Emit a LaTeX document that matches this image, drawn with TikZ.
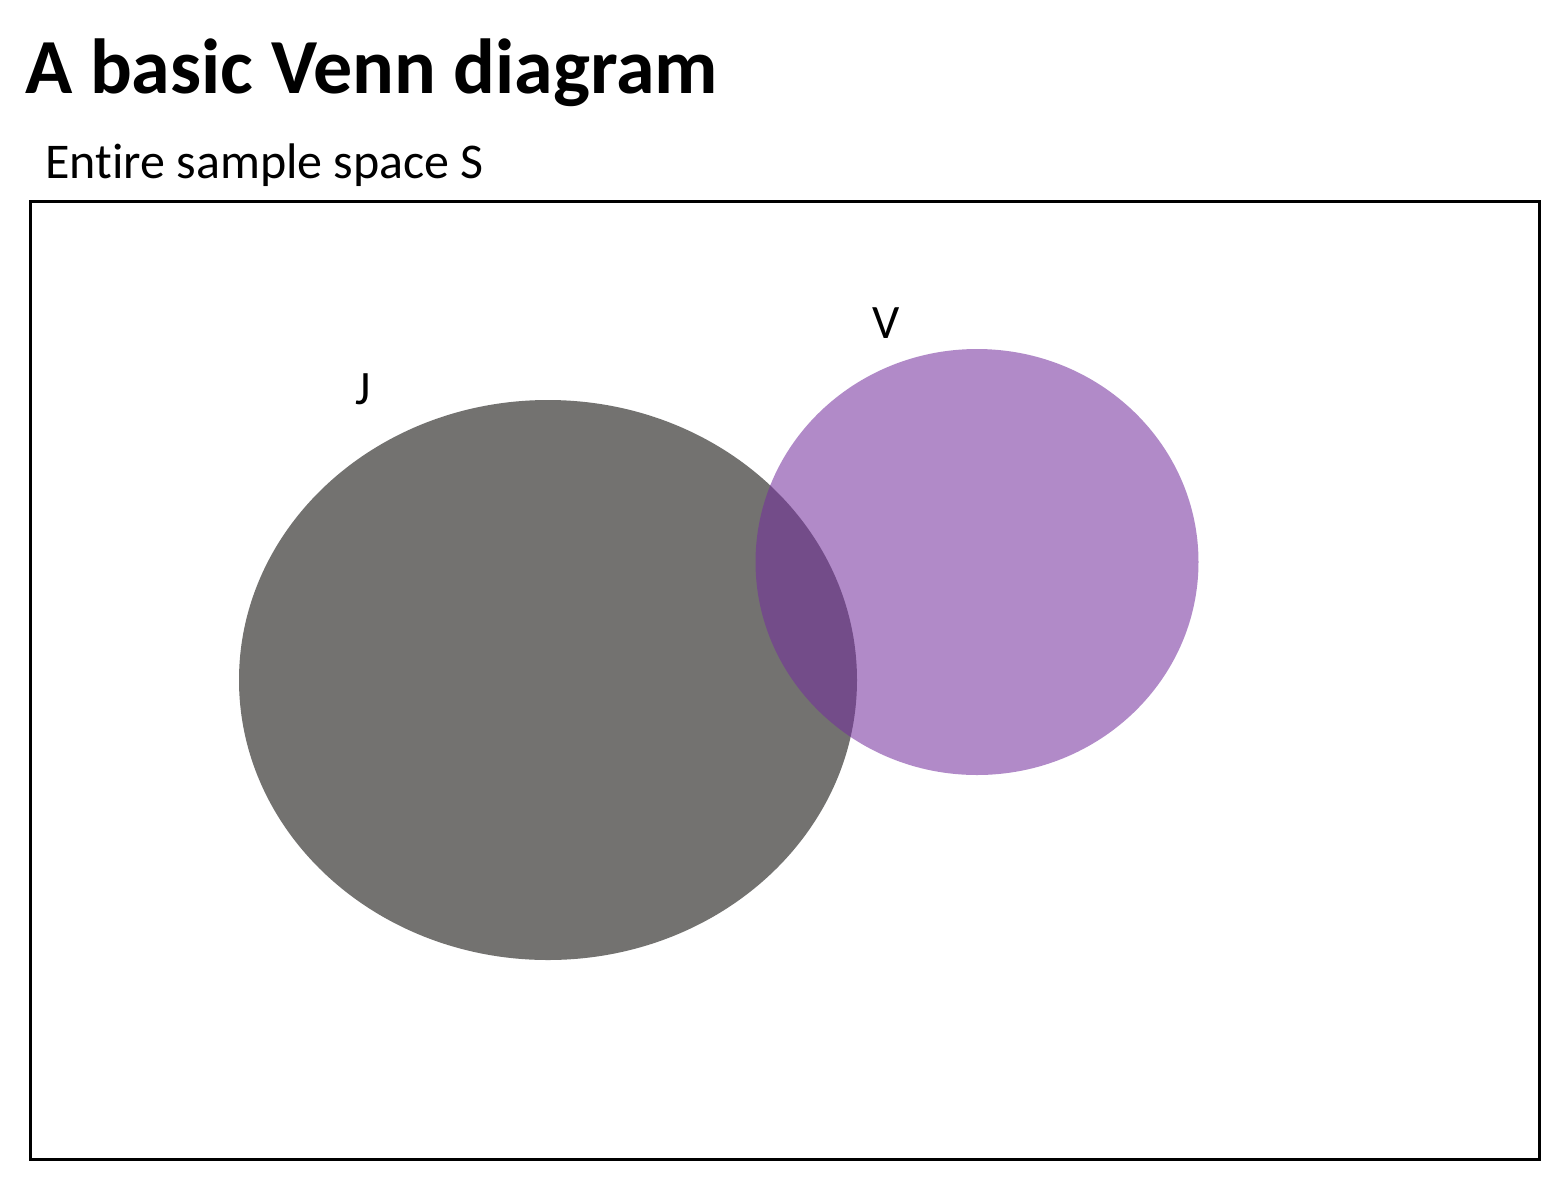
\documentclass[tikz,border=0pt]{standalone}
\usepackage{fontspec}
\setmainfont[Ligatures=NoCommon]{Carlito}
\definecolor{setJ}{RGB}{115,114,112}
\definecolor{setV}{RGB}{116,48,157}
\tikzset{
  lbl/.style={anchor=base, inner sep=0pt, font=\fontsize{48}{58}\selectfont},
}
\begin{document}
\begin{tikzpicture}[x=1pt,y=-1pt]
\useasboundingbox[fill=white] (0,0) rectangle (1567,1187);
\node[anchor=base west, inner sep=0pt, font=\fontsize{78}{94}\selectfont\bfseries] (title) at (25,93) {A basic Venn diagram};
\node[anchor=base west, inner sep=0pt, font=\fontsize{50}{60}\selectfont] (sub) at (45,178) {Entire sample space S};
\draw[line width=3pt] (30,201) rectangle (1539,1159);
\fill[setJ] (548,680) ellipse [x radius=309, y radius=280];
\fill[setV, fill opacity=0.56] (977,562) ellipse [x radius=221.5, y radius=213];
\node[lbl] (J) at (363,404) {J};
\node[lbl] (V) at (886,338) {V};
\end{tikzpicture}
\end{document}
